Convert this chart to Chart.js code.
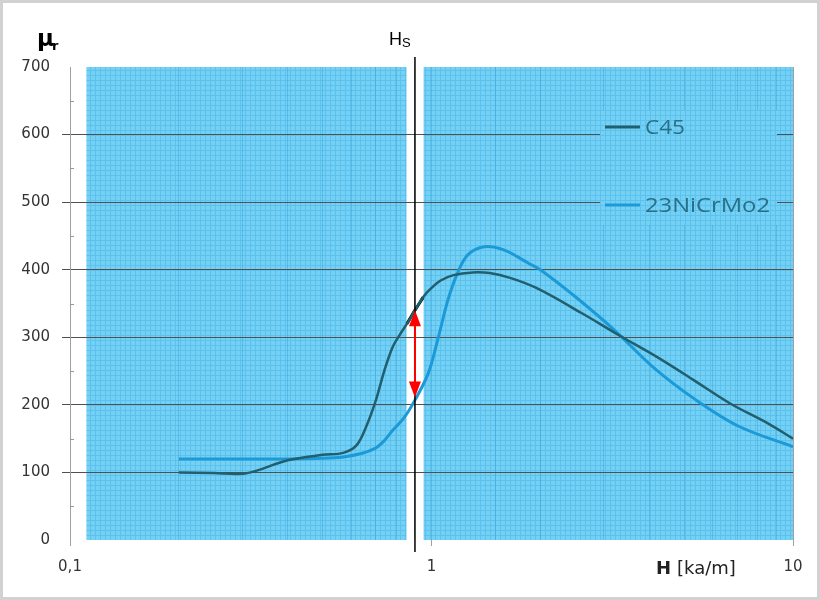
<!DOCTYPE html>
<html>
<head>
<meta charset="utf-8">
<script src="https://cdn.jsdelivr.net/npm/chart.js@4/dist/chart.umd.min.js"></script>
<style>
  body { margin: 0; background: #fff; }
  #wrap { width: 820px; height: 600px; }
</style>
</head>
<body>
<div id="wrap"><canvas id="myChart" width="820" height="600"></canvas></div>
<script>
// H in kA/m, mu_r
const hC45  = [0.2, 0.25, 0.3, 0.33, 0.4, 0.5, 0.57, 0.62, 0.66, 0.7, 0.74, 0.78, 0.82, 0.86, 0.9, 0.95, 1.0, 1.06, 1.15, 1.3, 1.45, 1.65, 1.95, 2.6, 3.3, 4.2, 5.3, 6.7, 8.5, 10];
const muC45 = [100, 99, 98, 103, 118, 126, 129, 140, 168, 205, 250, 285, 305, 322, 340, 360, 373, 384, 392, 396, 395, 388, 373, 336, 303, 271, 237, 202, 173, 150];

const hNi  = [0.2, 0.3, 0.4, 0.5, 0.57, 0.64, 0.7, 0.74, 0.78, 0.84, 0.9, 0.98, 1.04, 1.11, 1.18, 1.26, 1.4, 1.59, 1.85, 2.0, 2.5, 3.2, 4.1, 5.4, 7.1, 10];
const muNi = [120, 120, 120, 121, 123, 128, 136, 147, 162, 181, 207, 247, 296, 355, 395, 422, 434, 429, 410, 400, 360, 311, 256, 207, 168, 138];

// C45 piece highlighted at Hs
const hHs  = [0.855, 0.9, 0.948];
const muHs = [320, 340, 359];

const seriesNames = ['C45', '23NiCrMo2'];
const hsValue = 0.9;
const arrowMu = [340, 211];
const xTickLabels = { '0.1': '0,1', '1': '1', '10': '10' };
const shadedH = [[0.111, 0.853], [0.951, 10]];

function pts(xs, ys) {
  return xs.map(function (x, i) { return { x: x, y: ys[i] }; });
}
function isDecade(v) {
  let l = Math.log10(v);
  return Math.abs(l - Math.round(l)) < 1e-6;
}

// fine mesh for the blue background
const pc = document.createElement('canvas');
pc.width = 5; pc.height = 5;
const pctx = pc.getContext('2d');
pctx.fillStyle = '#74d0f4';
pctx.fillRect(0, 0, 5, 5);
pctx.fillStyle = '#5cc2ec';
pctx.fillRect(0, 0, 5, 1);
pctx.fillRect(0, 0, 1, 5);
let meshPattern = null;

const backPlugin = {
  id: 'back',
  beforeDraw(chart) {
    const ctx = chart.ctx, xs = chart.scales.x, ys = chart.scales.y;
    if (!meshPattern) meshPattern = ctx.createPattern(pc, 'repeat');
    ctx.save();
    ctx.fillStyle = '#fff';
    ctx.fillRect(0, 0, chart.width, chart.height);
    ctx.strokeStyle = '#d2d2d2';
    ctx.lineWidth = 3;
    ctx.strokeRect(1.5, 1.5, chart.width - 3, chart.height - 3);
    ctx.fillStyle = meshPattern;
    const top = ys.getPixelForValue(700), bot = ys.getPixelForValue(0);
    shadedH.forEach(function (r) {
      const a = xs.getPixelForValue(r[0]), b = xs.getPixelForValue(r[1]);
      ctx.fillRect(a, top, b - a, bot - top);
    });
    ctx.restore();
  },
  beforeDatasetsDraw(chart) {
    const ctx = chart.ctx, ys = chart.scales.y, area = chart.chartArea;
    ctx.save();
    // small inner ticks on the y axis
    ctx.strokeStyle = '#999';
    ctx.lineWidth = 1;
    for (let v = 50; v < 700; v += 100) {
      const y = Math.round(ys.getPixelForValue(v)) + 0.5;
      ctx.beginPath();
      ctx.moveTo(area.left, y);
      ctx.lineTo(area.left + 4, y);
      ctx.stroke();
    }
    // legend box hides the grid line
    ctx.fillStyle = meshPattern;
    ctx.fillRect(area.left + 530, area.top + 43, 177, 115);
    ctx.restore();
  },
  afterDatasetsDraw(chart) {
    const ctx = chart.ctx, xs = chart.scales.x, ys = chart.scales.y, area = chart.chartArea;
    ctx.save();
    // Hs line
    const hx = xs.getPixelForValue(hsValue);
    ctx.strokeStyle = '#000';
    ctx.lineWidth = 1.5;
    ctx.beginPath();
    ctx.moveTo(hx, area.top - 10);
    ctx.lineTo(hx, area.bottom + 12);
    ctx.stroke();

    // red double arrow
    const y1 = ys.getPixelForValue(arrowMu[0]), y2 = ys.getPixelForValue(arrowMu[1]);
    ctx.strokeStyle = '#ff0000';
    ctx.fillStyle = '#ff0000';
    ctx.lineWidth = 2;
    ctx.beginPath();
    ctx.moveTo(hx, y1 + 12);
    ctx.lineTo(hx, y2 - 12);
    ctx.stroke();
    ctx.beginPath();
    ctx.moveTo(hx, y1); ctx.lineTo(hx - 6, y1 + 16); ctx.lineTo(hx + 6, y1 + 16); ctx.closePath();
    ctx.fill();
    ctx.beginPath();
    ctx.moveTo(hx, y2); ctx.lineTo(hx - 6, y2 - 16); ctx.lineTo(hx + 6, y2 - 16); ctx.closePath();
    ctx.fill();

    // legend
    const lx = area.left + 535;
    const rows = [area.top + 60, area.top + 138];
    chart.data.datasets.slice(0, 2).forEach(function (ds, i) {
      ctx.strokeStyle = ds.borderColor;
      ctx.lineWidth = 3;
      ctx.beginPath();
      ctx.moveTo(lx, rows[i]);
      ctx.lineTo(lx + 35, rows[i]);
      ctx.stroke();
      ctx.fillStyle = '#286f88';
      ctx.font = '20px "Open Sans"';
      ctx.textBaseline = 'middle';
      const w = ctx.measureText(ds.label).width;
      const target = i === 0 ? 40 : 125;
      ctx.save();
      ctx.translate(lx + 40, rows[i] + 1);
      ctx.scale(target / w, 1);
      ctx.fillText(ds.label, 0, 0);
      ctx.restore();
    });

    // axis titles
    ctx.fillStyle = '#000';
    ctx.textBaseline = 'alphabetic';
    ctx.font = 'bold 23px "DejaVu Sans"';
    ctx.fillText('\u03bc', 37, 46);
    ctx.font = 'bold 13px "DejaVu Sans"';
    ctx.fillText('r', 52, 50);

    ctx.font = '18px "Liberation Sans"';
    ctx.fillText('H', 389, 45);
    ctx.font = '13px "Liberation Sans"';
    ctx.fillText('S', 402, 47);

    ctx.fillStyle = '#222';
    ctx.font = 'bold 18px "DejaVu Sans"';
    ctx.fillText('H', 656, 574);
    const hw = ctx.measureText('H').width;
    ctx.font = '18px "DejaVu Sans"';
    ctx.fillText('[ka/m]', 656 + hw + 6, 574);
    ctx.restore();
  }
};

new Chart('myChart', {
  type: 'line',
  data: {
    datasets: [{
      label: seriesNames[0],
      data: pts(hC45, muC45),
      borderColor: '#215e6e',
      borderWidth: 2.5,
      pointRadius: 0,
      tension: 0.35,
      fill: false
    }, {
      label: seriesNames[1],
      data: pts(hNi, muNi),
      borderColor: '#1c9ad8',
      borderWidth: 3,
      pointRadius: 0,
      tension: 0.35,
      fill: false
    }, {
      label: 'Hs',
      data: pts(hHs, muHs),
      borderColor: '#000',
      borderWidth: 3,
      pointRadius: 0,
      tension: 0.3,
      fill: false
    }]
  },
  options: {
    responsive: false,
    animation: false,
    layout: { padding: { top: 67, right: 27, bottom: 0, left: 0 } },
    plugins: { legend: { display: false }, tooltip: { enabled: false } },
    scales: {
      x: {
        type: 'logarithmic',
        min: 0.1,
        max: 10,
        afterFit: function (s) { s.height = 60; },
        border: { display: false },
        grid: {
          color: function (c) {
            const v = c.tick ? c.tick.value : 0;
            if (Math.abs(v - 0.1) < 1e-9 || Math.abs(v - 10) < 1e-9) return '#a0a0a0';
            return 'rgba(40,150,205,0.35)';
          },
          tickColor: function (c) {
            const v = c.tick ? c.tick.value : 0;
            return isDecade(v) ? '#a0a0a0' : 'rgba(0,0,0,0)';
          },
          tickLength: 6
        },
        ticks: {
          autoSkip: false,
          maxRotation: 0,
          padding: 12,
          color: '#333',
          font: { family: 'DejaVu Sans', size: 15 },
          callback: function (v) {
            if (!isDecade(v)) return '';
            return xTickLabels[String(Math.pow(10, Math.round(Math.log10(v))))] || '';
          }
        }
      },
      y: {
        min: 0,
        max: 700,
        afterFit: function (s) { s.width = 70; },
        border: { display: true, color: '#a0a0a0', width: 1 },
        grid: {
          color: function (c) {
            const v = c.tick ? c.tick.value : 0;
            return (v === 0 || v === 700) ? 'rgba(0,0,0,0)' : '#505050';
          },
          tickColor: function (c) {
            const v = c.tick ? c.tick.value : 0;
            return (v === 0 || v === 700) ? 'rgba(0,0,0,0)' : '#505050';
          },
          tickLength: 8
        },
        ticks: {
          stepSize: 100,
          padding: 12,
          color: '#333',
          font: { family: 'DejaVu Sans', size: 15 }
        }
      }
    }
  },
  plugins: [backPlugin]
});
</script>
</body>
</html>
